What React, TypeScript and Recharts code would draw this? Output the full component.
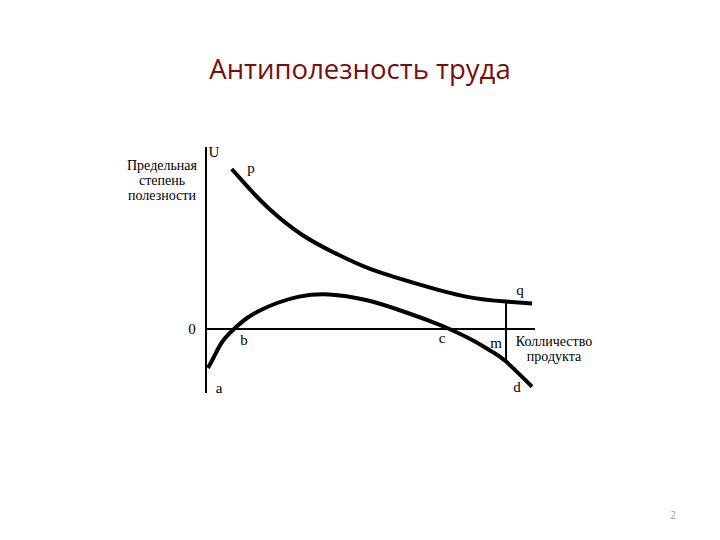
import { LineChart, Line, XAxis, YAxis, ReferenceLine } from "recharts";

// quantity of product (x) against marginal utility (y)
const utilityX = [7.8, 13.1, 19.1, 29.3, 39.4, 49.5, 63.7, 79, 91.2, 99.1];
const utilityY = [80, 70.3, 60.3, 47, 37.8, 30.3, 22.8, 16.2, 13.7, 12.8];

const netX = [0.6, 2.4, 4.9, 8.5, 12.5, 16.7, 21.6, 28.3, 37.4, 48.6, 58.7, 68.7, 74, 80.9, 86.9, 91.2, 99.1];
const netY = [-19.5, -14, -6.5, 0, 5.5, 9.5, 13, 16.2, 17.3, 14.5, 9.5, 3.6, 0, -5.5, -11.3, -16.3, -28.8];

// point m on the quantity axis, with q above and the lower curve below
const mX = 91.2;
const mTop = 13.7;
const mBottom = -16.3;

const pq = utilityX.map((x, i) => ({ x, y: utilityY[i] }));
const abcd = netX.map((x, i) => ({ x, y: netY[i] }));

const serif = '"Liberation Serif", "DejaVu Serif", serif';

const letters = [
  { t: "U", x: 214, y: 152 },
  { t: "p", x: 251, y: 168 },
  { t: "q", x: 520, y: 290 },
  { t: "0", x: 192, y: 329 },
  { t: "b", x: 244, y: 340 },
  { t: "c", x: 442, y: 338 },
  { t: "m", x: 496, y: 343 },
  { t: "a", x: 219, y: 388 },
  { t: "d", x: 517, y: 387 },
];

function Label({ x, y, children, size = 14 }: { x: number; y: number; children: any; size?: number }) {
  return (
    <div
      style={{
        position: "absolute",
        left: x,
        top: y,
        transform: "translate(-50%, -50%)",
        fontFamily: serif,
        fontSize: size,
        lineHeight: "15px",
        textAlign: "center",
        whiteSpace: "nowrap",
        color: "#000",
      }}
    >
      {children}
    </div>
  );
}

export default function App() {
  return (
    <div style={{ position: "relative", width: 720, height: 540, background: "#fff" }}>
      <style>{`body{margin:0}`}</style>
      <div
        style={{
          position: "absolute",
          left: 360,
          top: 68,
          transform: "translate(-50%, -50%)",
          fontFamily: '"Open Sans", "Noto Sans", sans-serif',
          fontSize: 27.5,
          color: "#7a0f0f",
          whiteSpace: "nowrap",
        }}
      >
        Антиполезность труда
      </div>

      <LineChart
        width={720}
        height={540}
        margin={{ top: 147, right: 185, bottom: 147, left: 206 }}
        style={{ position: "absolute", left: 0, top: 0 }}
      >
        <XAxis type="number" dataKey="x" domain={[0, 100]} hide />
        <YAxis type="number" domain={[-32, 91]} hide />
        <ReferenceLine x={0} stroke="#000" strokeWidth={2} />
        <ReferenceLine y={0} stroke="#000" strokeWidth={2} />
        <ReferenceLine
          segment={[
            { x: mX, y: mTop },
            { x: mX, y: mBottom },
          ]}
          stroke="#000"
          strokeWidth={2}
        />
        <Line
          data={pq}
          dataKey="y"
          type="natural"
          stroke="#000"
          strokeWidth={4}
          dot={false}
          isAnimationActive={false}
        />
        <Line
          data={abcd}
          dataKey="y"
          type="natural"
          stroke="#000"
          strokeWidth={4}
          dot={false}
          isAnimationActive={false}
        />
      </LineChart>

      {letters.map((l) => (
        <Label key={l.t} x={l.x} y={l.y} size={15}>
          {l.t}
        </Label>
      ))}
      <Label x={162} y={180} size={14}>
        Предельная
        <br />
        степень
        <br />
        полезности
      </Label>
      <Label x={554} y={349} size={14}>
        Колличество
        <br />
        продукта
      </Label>

      <div
        style={{
          position: "absolute",
          left: 673,
          top: 515,
          transform: "translate(-50%, -50%)",
          fontFamily: '"Open Sans", sans-serif',
          fontSize: 10,
          color: "#999",
        }}
      >
        2
      </div>
    </div>
  );
}
